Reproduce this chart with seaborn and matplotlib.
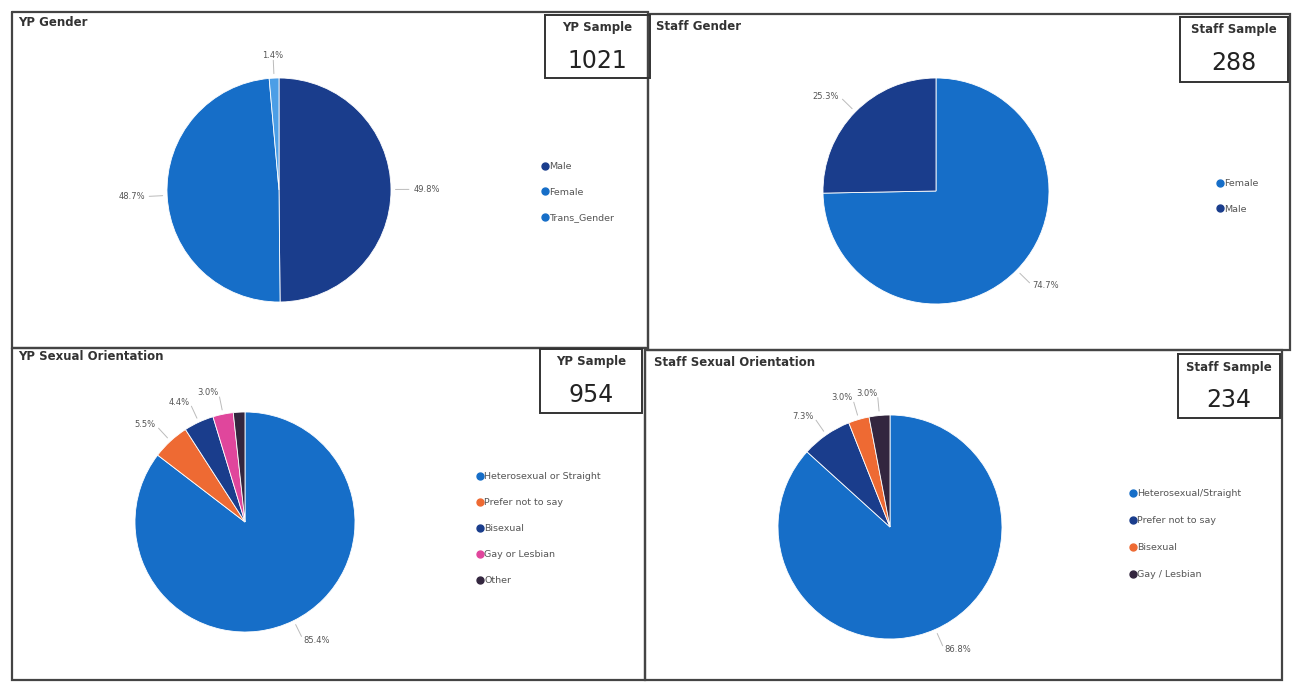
import numpy as np
import matplotlib
matplotlib.use("Agg")
import matplotlib.pyplot as plt
from matplotlib.lines import Line2D
import seaborn as sns

sns.set_theme(style="white")
plt.rcParams['font.family'] = ['DejaVu Sans']

# ---------------- data ----------------
yp_gender_labels = ["Male", "Female", "Trans_Gender"]
yp_gender_values = [49.8, 48.7, 1.4]
yp_gender_sample = 1021

staff_gender_labels = ["Female", "Male"]
staff_gender_values = [74.7, 25.3]
staff_gender_sample = 288

yp_so_labels = ["Heterosexual or Straight", "Prefer not to say", "Bisexual", "Gay or Lesbian", "Other"]
yp_so_values = [85.4, 5.5, 4.4, 3.0, 1.7]
yp_so_show = [True, True, True, True, False]
yp_so_sample = 954

staff_so_labels = ["Heterosexual/Straight", "Prefer not to say", "Bisexual", "Gay / Lesbian"]
staff_so_values = [86.8, 7.3, 3.0, 3.0]
staff_so_sample = 234

BLUE = "#166ec8"
DARK = "#1a3d8c"
LIGHT = "#4c9ee6"
ORANGE = "#ee6a33"
PINK = "#e0469c"
BLACK = "#33263f"

W, H = 1295, 682
fig = plt.figure(figsize=(W / 100, H / 100), dpi=100)
bg = fig.add_axes([0, 0, 1, 1])
bg.set_xlim(0, W)
bg.set_ylim(H, 0)
bg.axis("off")


def box(x0, y0, x1, y1, lw=1.6, color="#444444"):
    bg.plot([x0, x1, x1, x0, x0], [y0, y0, y1, y1, y0], color=color, lw=lw,
            solid_joinstyle="miter")


def pie_panel(cx, cy, r, values, colors, show=None, label_font=6):
    s = 2.8 * r
    ax = fig.add_axes([(cx - s / 2) / W, 1 - (cy + s / 2) / H, s / W, s / H])
    wedges, _ = ax.pie(values, colors=colors, startangle=90, counterclock=False,
                       wedgeprops=dict(linewidth=0.6, edgecolor="white"))
    ax.set_xlim(-1.4, 1.4)
    ax.set_ylim(-1.4, 1.4)
    ax.axis("off")
    if show is None:
        show = [True] * len(values)
    for w, v, sh in zip(wedges, values, show):
        if not sh:
            continue
        ang = np.deg2rad((w.theta1 + w.theta2) / 2)
        ca, sa = np.cos(ang), np.sin(ang)
        ax.plot([1.04 * ca, 1.16 * ca], [1.04 * sa, 1.16 * sa], color="#bbbbbb", lw=0.7)
        ha = "left" if ca > 0.05 else ("right" if ca < -0.05 else "center")
        ax.text(1.2 * ca, 1.2 * sa, f"{v:.1f}%", ha=ha, va="center",
                fontsize=label_font, color="#555555")
    return ax


def legend(x, y, labels, colors, spacing):
    handles = [Line2D([0], [0], marker="o", linestyle="", markersize=5,
                      markerfacecolor=c, markeredgecolor=c) for c in colors]
    leg = fig.legend(handles, labels, loc="upper left",
                     bbox_to_anchor=(x / W, 1 - y / H), frameon=False,
                     fontsize=6.8, handletextpad=0.05, handlelength=0.8,
                     labelspacing=spacing, borderpad=0, borderaxespad=0)
    for t in leg.get_texts():
        t.set_color("#555555")


def sample_box(x0, y0, x1, y1, title, number):
    box(x0, y0, x1, y1, lw=1.4, color="#333333")
    bg.text((x0 + x1) / 2, y0 + 13, title, ha="center", va="center",
            fontsize=8.5, color="#333333", fontweight="bold")
    bg.text((x0 + x1) / 2, y0 + 46, str(number), ha="center", va="center",
            fontsize=17, color="#222222")


# panel borders
box(12, 12, 648, 348)
box(648, 14, 1290, 350)
box(12, 348, 645, 680)
box(645, 350, 1282, 680)

# titles
title_kw = dict(ha="left", va="center", fontsize=8.5, color="#333333", fontweight="bold")
bg.text(18, 22, "YP Gender", **title_kw)
bg.text(656, 27, "Staff Gender", **title_kw)
bg.text(18, 357, "YP Sexual Orientation", **title_kw)
bg.text(654, 362, "Staff Sexual Orientation", **title_kw)

# sample boxes
sample_box(545, 15, 650, 78, "YP Sample", yp_gender_sample)
sample_box(1180, 17, 1288, 82, "Staff Sample", staff_gender_sample)
sample_box(540, 349, 642, 413, "YP Sample", yp_so_sample)
sample_box(1178, 354, 1280, 418, "Staff Sample", staff_so_sample)

# pies
pie_panel(279, 190, 112, yp_gender_values, [DARK, BLUE, LIGHT])
pie_panel(936, 191, 113, staff_gender_values, [BLUE, DARK])
pie_panel(245, 522, 110, yp_so_values, [BLUE, ORANGE, DARK, PINK, BLACK], show=yp_so_show)
pie_panel(890, 527, 112, staff_so_values, [BLUE, DARK, ORANGE, BLACK])

# legends
legend(541, 162, yp_gender_labels, [DARK, BLUE, BLUE], 1.75)
legend(1216, 179, staff_gender_labels, [BLUE, DARK], 1.75)
legend(476, 472, yp_so_labels, [BLUE, ORANGE, DARK, PINK, BLACK], 1.8)
legend(1129, 489, staff_so_labels, [BLUE, DARK, ORANGE, BLACK], 1.9)

fig.savefig("out.png", dpi=100, facecolor="white")
